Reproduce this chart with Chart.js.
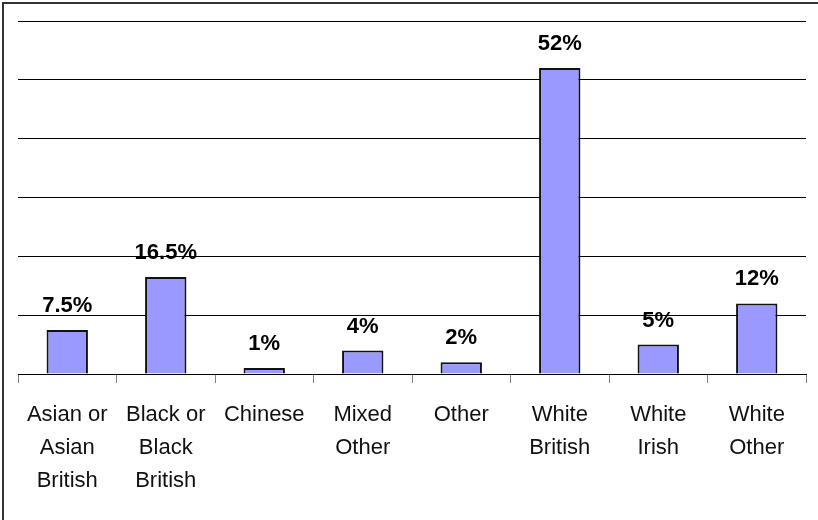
<!DOCTYPE html>
<html>
<head>
<meta charset="utf-8">
<script src="https://cdn.jsdelivr.net/npm/chart.js@4"></script>
<style>
  html, body { margin: 0; padding: 0; background: #fff; }
  #wrap { width: 818px; height: 520px; position: relative; }
</style>
</head>
<body>
<div id="wrap"><canvas id="ethnicChart"></canvas></div>
<script>
const categories = [
  ['Asian or', 'Asian', 'British'],
  ['Black or', 'Black', 'British'],
  ['Chinese'],
  ['Mixed', 'Other'],
  ['Other'],
  ['White', 'British'],
  ['White', 'Irish'],
  ['White', 'Other']
];
const percentages = [7.5, 16.5, 1, 4, 2, 52, 5, 12];
const yMax = 60;
const yStep = 10;

// draws the "x%" label above each bar
const valueLabels = {
  id: 'valueLabels',
  afterDatasetsDraw(chart) {
    const ctx = chart.ctx;
    const meta = chart.getDatasetMeta(0);
    ctx.save();
    ctx.font = "bold 22px 'Liberation Sans', Arial, sans-serif";
    ctx.fillStyle = '#000';
    ctx.textAlign = 'center';
    ctx.textBaseline = 'middle';
    meta.data.forEach((bar, i) => {
      ctx.fillText(percentages[i] + '%', bar.x, bar.y - 24);
    });
    ctx.restore();
  }
};

// frame edges visible on the left and top
const frame = {
  id: 'frame',
  afterDraw(chart) {
    const ctx = chart.ctx;
    ctx.save();
    ctx.strokeStyle = '#333';
    ctx.lineWidth = 2;
    ctx.beginPath();
    ctx.moveTo(3, chart.height);
    ctx.lineTo(3, 3);
    ctx.lineTo(chart.width, 3);
    ctx.stroke();
    ctx.restore();
  }
};

new Chart(document.getElementById('ethnicChart'), {
  type: 'bar',
  data: {
    labels: categories,
    datasets: [{
      data: percentages,
      backgroundColor: '#9999FF',
      borderColor: '#111',
      borderWidth: 2,
      barPercentage: 0.42,
      categoryPercentage: 1
    }]
  },
  options: {
    responsive: true,
    maintainAspectRatio: false,
    animation: false,
    layout: {
      padding: { left: 18, right: 12, top: 21, bottom: 8 }
    },
    plugins: {
      legend: { display: false },
      tooltip: { enabled: false }
    },
    scales: {
      y: {
        min: 0,
        max: yMax,
        ticks: { display: false, stepSize: yStep },
        border: { display: false },
        grid: { color: '#000', lineWidth: 1, drawTicks: false }
      },
      x: {
        border: { display: true, color: '#000', width: 1 },
        grid: {
          offset: true,
          drawOnChartArea: false,
          tickLength: 9,
          tickColor: '#808080'
        },
        ticks: {
          color: '#111',
          maxRotation: 0,
          autoSkip: false,
          padding: 15,
          font: { family: "'Liberation Sans', Arial, sans-serif", size: 22, lineHeight: 1.5 }
        }
      }
    }
  },
  plugins: [valueLabels, frame]
});
</script>
</body>
</html>
